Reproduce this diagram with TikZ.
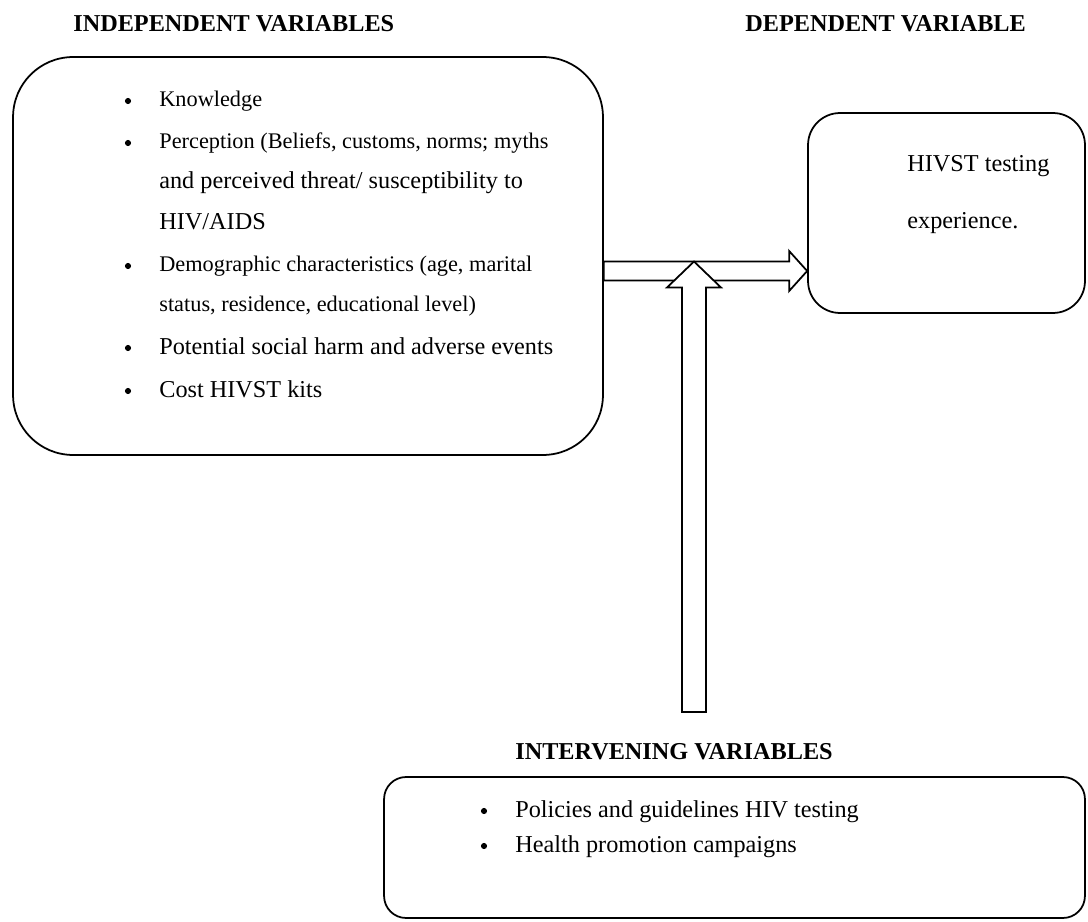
\documentclass[tikz,border=0pt]{standalone}
\usepackage{fontspec}
\setmainfont{Liberation Serif}
\usetikzlibrary{calc}

\begin{document}
\begin{tikzpicture}
[x=0.02cm,y=-0.02cm,
  boxdecorate/.style={draw,line width=1pt,inner sep=0pt},%
  arrowdecorate/.style={draw,fill=white,line width=1pt,line join=miter},%
  titledecorate/.style={anchor=base west,inner sep=0pt,font=\fontsize{13.8}{16}\selectfont\bfseries},%
  smalltext/.style={anchor=base west,inner sep=0pt,font=\fontsize{12.7}{15}\selectfont},%
  largetext/.style={anchor=base west,inner sep=0pt,font=\fontsize{13.8}{16}\selectfont},%
  bulletdecorate/.style={circle,fill,inner sep=0pt,minimum size=3.5pt}]
\path[use as bounding box,fill=white] (0,0) rectangle (1088,922);
%% titles
\node (indeptitle) at (73,32) [titledecorate] {INDEPENDENT VARIABLES};
\node (deptitle) at (745,32) [titledecorate] {DEPENDENT VARIABLE};
\node (intertitle) at (515,759) [titledecorate] {INTERVENING VARIABLES};
%% boxes
\node (indep) at (308,256) [boxdecorate,rounded corners=1.2cm,
  minimum width=11.8cm,minimum height=7.96cm] {};
\node (dep) at (946.5,213) [boxdecorate,rounded corners=0.64cm,
  minimum width=5.54cm,minimum height=4cm] {};
\node (inter) at (734.5,847.5) [boxdecorate,rounded corners=0.44cm,
  minimum width=14.02cm,minimum height=2.82cm] {};
%% list of independent variables
\foreach \nodename/\y/\fstyle/\txt in {l1/106.5/smalltext/{Knowledge},
  l2/148.5/smalltext/{Perception (Beliefs, customs, norms; myths},
  l3/189/largetext/{and perceived threat/ susceptibility to},
  l4/230/largetext/{HIV/AIDS},
  l5/271.5/smalltext/{Demographic characteristics (age, marital},
  l6/311.5/smalltext/{status, residence, educational level)},
  l7/354/largetext/{Potential social harm and adverse events},
  l8/397/largetext/{Cost HIVST kits}}
{
  \node (\nodename) at (159,\y) [\fstyle] {\txt};
}
\foreach \nodename/\y in {b1/101, b2/143, b5/266, b7/348, b8/391}
{
  \node (\nodename) at (128,\y) [bulletdecorate] {};
}
%% dependent variable
\node (d1) at (907,172) [largetext] {HIVST testing};
\node (d2) at (907,229) [largetext] {experience.};
%% intervening variables
\node (i1) at (515,817) [largetext] {Policies and guidelines HIV testing};
\node (i2) at (515,852) [largetext] {Health promotion campaigns};
\foreach \nodename/\y in {ib1/811, ib2/846}
{
  \node (\nodename) at (484,\y) [bulletdecorate] {};
}
%% block arrows
\coordinate (htail) at (indep.east |- 0,271);
\coordinate (htip) at (dep.west |- htail);
\draw[arrowdecorate] ($(htail)+(0,-9.5)$) -- ($(htip)+(-18,-9.5)$)
  -- ($(htip)+(-18,-20)$) -- (htip) -- ($(htip)+(-18,20)$)
  -- ($(htip)+(-18,9.5)$) -- ($(htail)+(0,9.5)$) -- cycle;
\coordinate (vtip) at (694,261.5);
\coordinate (vtail) at (vtip |- 0,712);
\draw[arrowdecorate] ($(vtail)+(-12,0)$) -- ($(vtip)+(-12,26)$)
  -- ($(vtip)+(-27,26)$) -- (vtip) -- ($(vtip)+(27,26)$)
  -- ($(vtip)+(12,26)$) -- ($(vtail)+(12,0)$) -- cycle;
\end{tikzpicture}
\end{document}
